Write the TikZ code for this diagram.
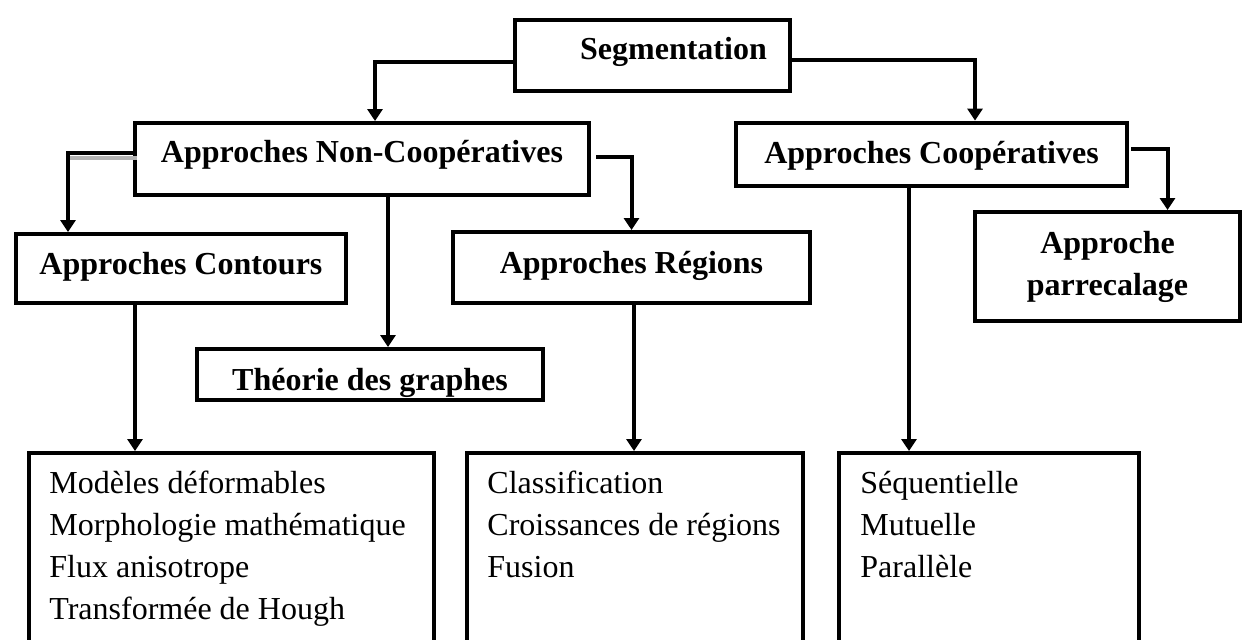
\documentclass[tikz,border=0pt]{standalone}
\usepackage{fontspec}
\setmainfont{Liberation Serif}
\usetikzlibrary{arrows.meta}
\begin{document}
\begin{tikzpicture}[x=0.5pt,y=-0.5pt,
  box/.style={draw=black,line width=2pt,inner sep=0pt,align=center,
    font=\fontsize{16}{21}\selectfont\bfseries},
  % baseline sits (h-d)/2 below the box centre
  lift/.style={text height=#1+2pt,text depth=2pt},
  listbox/.style={draw=black,line width=2pt,inner sep=0pt},
  listtext/.style={anchor=north west,inner sep=0pt,align=left,
    font=\fontsize{16}{21}\selectfont},
  conn/.style={line width=2pt,-{Triangle[length=6pt,width=7.5pt]}},
  smear/.style={line width=1.6pt,draw=gray!60}]
\useasboundingbox[fill=white] (0,0) rectangle (1246,639);

% hierarchy boxes
\node[box,lift=3.8pt,minimum width=137.5pt,minimum height=35.5pt] (seg) at (652.5,55.5) {\hspace*{21pt}Segmentation};
\node[box,lift=3pt,minimum width=227pt,minimum height=36pt] (nc) at (362,159) {Approches Non-Coopératives};
\node[box,lift=8.7pt,minimum width=195.5pt,minimum height=31.7pt] (coop) at (931.5,154.3) {Approches Coopératives};
\node[box,lift=5.5pt,minimum width=165pt,minimum height=34.5pt] (cont) at (181,268.5) {Approches Contours};
\node[box,lift=5.5pt,minimum width=178.5pt,minimum height=35.5pt] (reg) at (631.5,267.5) {Approches Régions};
\node[box,lift=15.5pt,minimum width=173pt,minimum height=25.5pt] (theo) at (370,374.5) {Théorie des graphes};
\node[box,minimum width=132.5pt,minimum height=54.5pt] (recal) at (1107.5,266.5) {Approche\\parrecalage};

% method lists (boxes run past the lower edge)
\node[listbox,minimum width=202.5pt,minimum height=110pt] (b1) at (231.5,563) {};
\node[listbox,minimum width=168pt,minimum height=110pt] (b2) at (635,563) {};
\node[listbox,minimum width=150pt,minimum height=110pt] (b3) at (989,563) {};

\node[listtext] (l1) at (49,463.6) {\strut Modèles déformables\\Morphologie mathématique\\Flux anisotrope\\Transformée de Hough};
\node[listtext] (l2) at (487,463.6) {\strut Classification\\Croissances de régions\\Fusion};
\node[listtext] (l3) at (860,463.6) {\strut Séquentielle\\Mutuelle\\Parallèle};

% connectors
\coordinate (ctop) at ([xshift=-56.5pt]cont.north);
\draw[conn] ([yshift=-3.1pt]seg.west) -| ([xshift=6.5pt]nc.north);
\draw[conn] ([yshift=-2.25pt]seg.east) -| ([xshift=21.75pt]coop.north);
\draw[smear] ([yshift=0.5pt]ctop |- nc.west) -- ([xshift=2pt,yshift=0.5pt]nc.west);
\draw[conn] ([yshift=2.85pt]nc.west) -| (ctop);
\draw[conn] ([xshift=2.5pt,yshift=1pt]nc.east) -| (reg.north);
\draw[conn] ([xshift=13pt]nc.south) -- ([xshift=13pt]nc.south |- theo.north);
\draw[conn] ([xshift=-23pt]cont.south) -- ([xshift=-23pt]cont.south |- b1.north);
\draw[conn] ([xshift=1.25pt]reg.south) -- ([xshift=1.25pt]reg.south |- b2.north);
\draw[conn] ([xshift=-11.25pt]coop.south) -- ([xshift=-11.25pt]coop.south |- b3.north);
\draw[conn] ([xshift=1pt,yshift=2.5pt]coop.east) -| ([xshift=30pt]recal.north);
\end{tikzpicture}
\end{document}
